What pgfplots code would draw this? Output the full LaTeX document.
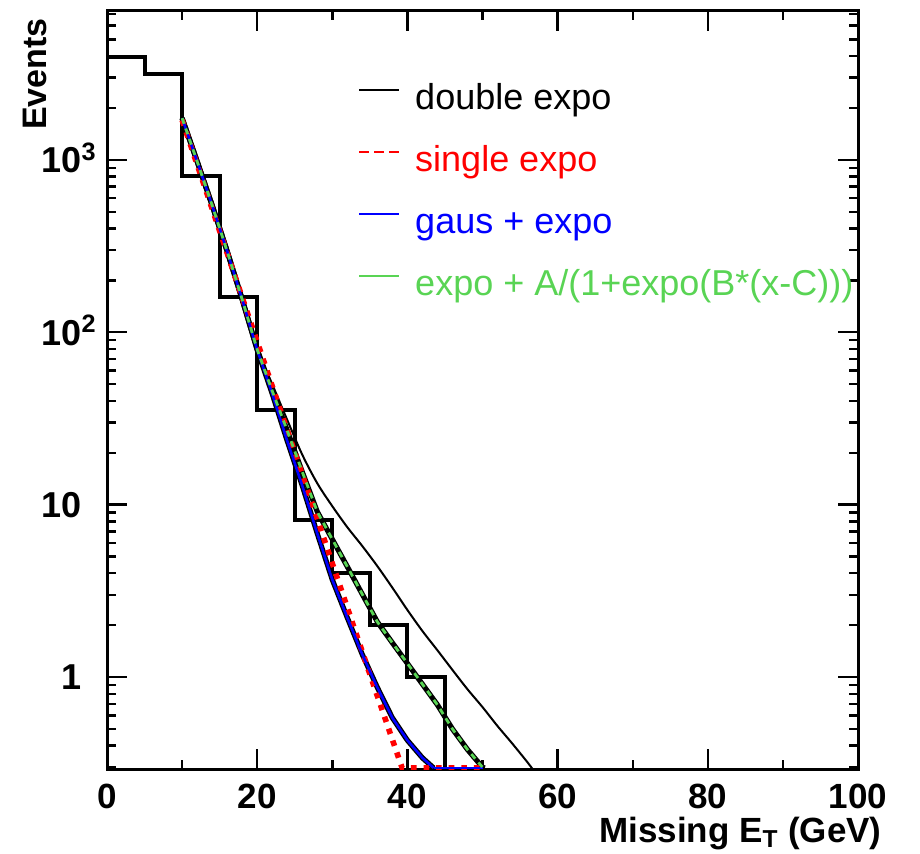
\documentclass[border=0pt]{standalone}
\usepackage{pgfplots}
\pgfplotsset{compat=1.18}
\usepackage{pgfplotstable}
\usepackage{fontspec}
\setmainfont{Liberation Sans}
\definecolor{rootgreen}{RGB}{89,212,84}

\pgfplotstableread{
x y
0 3950
5 3150
10 808
15 161
20 35.3
25 8.1
30 4
35 2
40 1
45 0.01
50 0.01
}\hist

\pgfplotstableread{
x y
10 1745
12 980
14 545
16 295
18 155
20 80
22 50
24 31
26 19.5
28 13.3
30 9.8
32 7.4
34 5.75
36 4.4
38 3.3
40 2.45
42 1.85
44 1.43
46 1.10
48 0.85
50 0.67
52 0.52
54 0.41
56 0.32
57 0.28
}\dexpo

\pgfplotstableread{
x y
10 1745
12 980
14 545
16 295
18 155
20 79
22 44
24 23.4
26 12.9
28 6.8
30 3.67
32 2.21
34 1.35
36 0.87
38 0.58
40 0.43
42 0.34
43.5 0.297
}\gaus

\pgfplotstableread{
x y
10 1745
12 980
14 545
16 295
18 155
20 79.4
22 45.7
24 26.9
26 15.5
28 9.1
30 6.3
32 4.37
34 3.02
36 2.09
38 1.58
40 1.20
42 0.91
44 0.69
46 0.50
48 0.38
50 0.30
50.3 0.297
}\sig

\pgfplotstableread{
x y
10 1700
15 387
20 88
25 20.1
30 4.57
35 1.04
39.3 0.297
50 0.297
}\single

\begin{document}
\begin{tikzpicture}
\path[use as bounding box] (-53.5pt,-42pt) rectangle (406.5pt,384.5pt);
\begin{axis}[
  at={(0,0)}, anchor=south west,
  scale only axis, width=375.5pt, height=379pt,
  xmin=0, xmax=100, ymode=log, ymin=0.293, ymax=7300,
  xtick={0,20,40,60,80,100}, xticklabels={0,20,40,60,80,100},
  minor xtick={10,30,50,70,90},
  ytick={1,10,100,1000},
  yticklabels={1,10,10\rlap{\textsuperscript{2}},10\rlap{\textsuperscript{3}}},
  minor ytick={0.3,0.4,0.5,0.6,0.7,0.8,0.9,2,3,4,5,6,7,8,9,20,30,40,50,60,70,80,90,200,300,400,500,600,700,800,900,2000,3000,4000,5000,6000,7000},
  tick align=inside,
  xtick pos=both, ytick pos=both,
  major tick length=10pt, minor tick length=4.5pt,
  axis line style={line width=1.5pt},
  major tick style={black, line width=1.2pt},
  minor tick style={black, line width=1.2pt},
  xticklabel style={font=\fontsize{17.5}{20}\selectfont\bfseries, anchor=north, inner sep=0pt, yshift=-7.5pt, text depth=0pt},
  yticklabel style={font=\fontsize{18}{20}\selectfont\bfseries, anchor=base east, inner sep=0pt, xshift=-12.5pt, yshift=-6.4pt},
  xlabel={Missing E\textsubscript{T} (GeV)},
  xlabel style={font=\fontsize{17.5}{20}\selectfont\bfseries, at={(rel axis cs:1,0)}, anchor=base east, inner sep=0pt, xshift=12pt, yshift=-36.5pt},
  ylabel={Events},
  ylabel style={font=\fontsize{17}{20}\selectfont\bfseries, at={([xshift=-30pt,yshift=-3.5pt]rel axis cs:0,1)}, anchor=south east, inner sep=0pt},
  legend style={draw=none, fill=none, at={(rel axis cs:0.334,0.905)}, anchor=north west,
    inner sep=0pt, row sep=13.5pt, column sep=7.5pt,
    font=\fontsize{18}{21}\selectfont,
    nodes={inner sep=0pt, text height=13pt, text depth=4.5pt}},
  legend cell align=left,
  legend image code/.code={\draw[#1] (0pt,5.5pt) -- (20pt,5.5pt);},
]
\addplot[const plot, black, line width=2pt, forget plot] table {\hist};
\addplot[smooth, black, line width=1pt, forget plot] table {\dexpo};
\addplot[black, line width=2.6pt, forget plot] table {\gaus};
\addplot[black, line width=2.6pt, forget plot] table {\sig};
\addplot[red, line width=2.8pt, dash pattern=on 2.8pt off 3.5pt, forget plot] table {\single};
\addplot[blue, line width=1.3pt, forget plot] table {\gaus};
\addplot[blue, line width=1.3pt, forget plot] coordinates {(43.5,0.297) (50,0.297)};
\addplot[rootgreen, line width=1.4pt, dash pattern=on 3pt off 2.5pt, forget plot] table {\sig};

\addlegendimage{black, line width=0.8pt}
\addlegendentry{double expo}
\addlegendimage{red, line width=1pt, dash pattern=on 5pt off 2.5pt}
\addlegendentry{\textcolor{red}{single expo}}
\addlegendimage{blue, line width=0.8pt}
\addlegendentry{\textcolor{blue}{gaus + expo}}
\addlegendimage{rootgreen, line width=0.8pt}
\addlegendentry{\textcolor{rootgreen}{expo + A/(1+expo(B*(x-C)))}}
\end{axis}
\end{tikzpicture}
\end{document}
